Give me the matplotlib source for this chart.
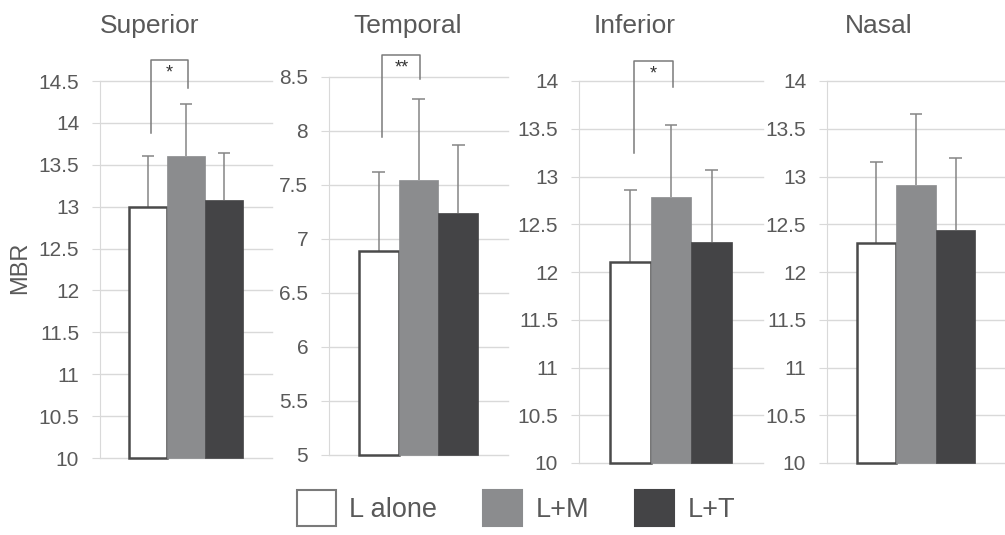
import matplotlib
matplotlib.use("Agg")
import matplotlib.pyplot as plt
from matplotlib.patches import Patch
import numpy as np

plt.rcParams["font.family"] = ["Liberation Sans", "DejaVu Sans"]

# Retinal regions and treatment groups
regions = ["Superior", "Temporal", "Inferior", "Nasal"]
groups = ["L alone", "L+M", "L+T"]

# Mean MBR per group for each region
superior_mean = [13.00, 13.60, 13.08]
temporal_mean = [6.89, 7.55, 7.24]
inferior_mean = [12.10, 12.79, 12.31]
nasal_mean = [12.30, 12.91, 12.44]

# Standard deviations (upper error bars)
superior_sd = [0.60, 0.62, 0.56]
temporal_sd = [0.73, 0.75, 0.63]
inferior_sd = [0.76, 0.75, 0.76]
nasal_sd = [0.85, 0.74, 0.75]

# Axis ranges (min, max) per region
y_ranges = [(10, 14.5), (5, 8.5), (10, 14), (10, 14)]

# Significance brackets: (left leg bottom, top, right leg bottom, label)
brackets = [(13.88, 14.75, 14.42, "*"),
            (7.94, 8.70, 8.48, "**"),
            (13.25, 14.21, 13.94, "*"),
            None]

means = [superior_mean, temporal_mean, inferior_mean, nasal_mean]
sds = [superior_sd, temporal_sd, inferior_sd, nasal_sd]

bar_colors = ["#ffffff", "#8b8c8e", "#444446"]
edge_colors = ["#4a4a4a", "#8b8c8e", "#444446"]
grid_color = "#d9d9d9"
text_color = "#595959"
err_color = "#858585"

W, H = 1005, 535
fig = plt.figure(figsize=(W / 100, H / 100), dpi=100)

# panel boxes in pixels: left, right, top, bottom
boxes = [(100, 272, 81, 458), (329, 508, 77, 455),
         (579, 763, 81, 463), (827, 1005, 81, 463)]
title_x = [150, 408, 635, 879]

bw = 0.222
cap = 0.035
xpos = np.array([-bw, 0.0, bw])

for i, (l, r, t, b) in enumerate(boxes):
    ax = fig.add_axes([l / W, 1 - b / H, (r - l) / W, (b - t) / H])
    lo, hi = y_ranges[i]
    ax.set_xlim(-0.5, 0.5)
    ax.set_ylim(lo, hi)
    ticks = np.arange(lo, hi + 0.001, 0.5)
    ax.set_yticks(ticks)
    ax.set_yticklabels([f"{v:g}" for v in ticks])
    ax.set_xticks([])
    ax.grid(axis="y", color=grid_color, linewidth=1, zorder=0)
    for gl in ax.get_ygridlines():
        gl.set_clip_on(False)
    ax.set_axisbelow(True)
    for s in ["top", "right", "bottom"]:
        ax.spines[s].set_visible(False)
    ax.spines["left"].set_color(grid_color)
    ax.tick_params(axis="y", length=6, color=grid_color, pad=9,
                   labelsize=15, labelcolor=text_color)

    m = np.array(means[i])
    sd = np.array(sds[i])
    # upper error bars only
    ax.vlines(xpos, m, m + sd, color=err_color, linewidth=1.1, zorder=2.5)
    ax.hlines(m + sd, xpos - cap, xpos + cap, color=err_color,
              linewidth=1.1, zorder=2.5)
    ax.bar(xpos, m - lo, width=bw, bottom=lo, color=bar_colors,
           edgecolor=edge_colors, linewidth=[1.8, 0.5, 0.5], zorder=3,
           clip_on=False)

    br = brackets[i]
    if br is not None:
        yl, yt, yr, lab = br
        ax.plot([xpos[0] + 0.02, xpos[0] + 0.02, xpos[1] + 0.01, xpos[1] + 0.01],
                [yl, yt, yt, yr], color="#7a7a7a", linewidth=1.1,
                clip_on=False, zorder=4)
        ax.text((xpos[0] + xpos[1]) / 2 + 0.015, yt - (hi - lo) * 0.012, lab,
                ha="center", va="top", fontsize=13, color="#333333",
                clip_on=False)

    fig.text(title_x[i] / W, 1 - 33 / H, regions[i], ha="center",
             va="baseline", fontsize=19, color=text_color)

fig.text(20 / W, 1 - 268 / H, "MBR", rotation=90, ha="center", va="center",
         fontsize=17, color=text_color)

handles = [Patch(facecolor=bar_colors[k], edgecolor=("#7a7a7a" if k == 0 else bar_colors[k]),
                 linewidth=1.5) for k in range(3)]
fig.legend(handles, groups, loc="center", bbox_to_anchor=(516 / W, 1 - 508 / H),
           ncol=3, frameon=False, fontsize=19.5, labelcolor=text_color,
           handlelength=1.44, handleheight=1.7, handletextpad=0.5,
           columnspacing=1.7, borderpad=0, borderaxespad=0)

fig.savefig("out.png", dpi=100)
